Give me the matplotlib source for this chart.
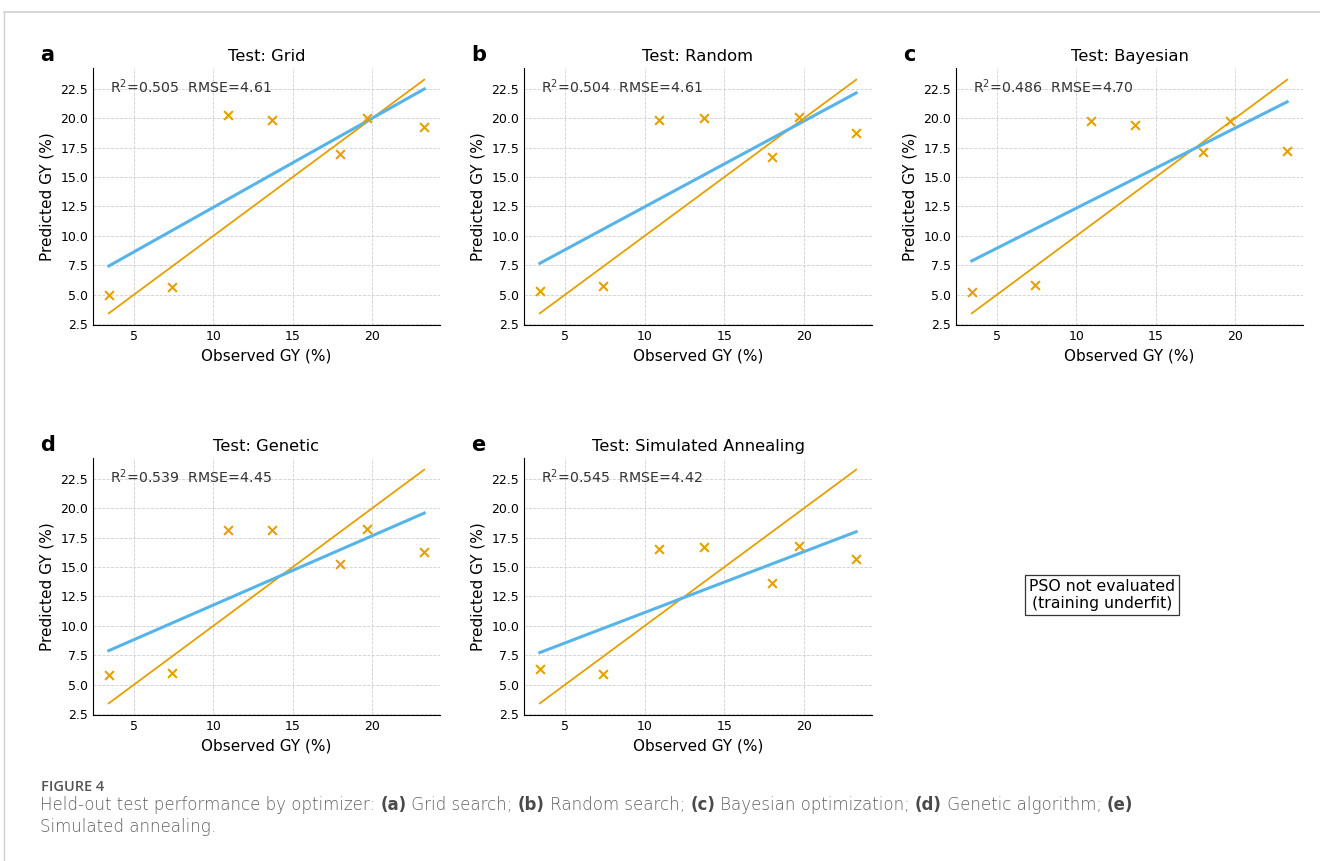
import numpy as np
import matplotlib
matplotlib.use("Agg")
import matplotlib.pyplot as plt
from matplotlib.lines import Line2D

# observed GY (%) on the held-out test set, same for every optimizer
observed = [3.4, 7.4, 10.9, 13.7, 18.0, 19.7, 23.3]

pred_grid = [4.95, 5.65, 20.25, 19.85, 17.0, 20.0, 19.3]
pred_random = [5.3, 5.75, 19.85, 20.0, 16.75, 20.15, 18.75]
pred_bayes = [5.25, 5.85, 19.75, 19.45, 17.15, 19.8, 17.25]
pred_genetic = [5.8, 5.95, 18.15, 18.2, 15.3, 18.25, 16.3]
pred_anneal = [6.3, 5.9, 16.55, 16.7, 13.65, 16.8, 15.7]

panel_letters = ["a", "b", "c", "d", "e"]
panel_titles = ["Test: Grid", "Test: Random", "Test: Bayesian",
                "Test: Genetic", "Test: Simulated Annealing"]
r2_values = ["0.505", "0.504", "0.486", "0.539", "0.545"]
rmse_values = ["4.61", "4.61", "4.70", "4.45", "4.42"]

ORANGE = "#E69F00"
BLUE = "#56B4E9"

W, H = 1320, 861
fig = plt.figure(figsize=(W / 100, H / 100), dpi=100)

# axes boxes in pixels: left, top, right, bottom
col_x = [(93, 440), (524, 872), (956, 1303)]
row_y = [(68, 325), (458, 715)]


def px_axes(l, t, r, b):
    return fig.add_axes([l / W, 1 - b / H, (r - l) / W, (b - t) / H])


def draw_panel(ax, obs, pred, letter, title, r2, rmse):
    obs = np.array(obs)
    pred = np.array(pred)
    lo, hi = obs.min(), obs.max()
    # least squares fit of predicted vs observed
    slope, icpt = np.polyfit(obs, pred, 1)
    xs = np.array([lo, hi])
    ax.scatter(obs, pred, marker="x", s=40, color=ORANGE, linewidths=1.5, zorder=3)
    ax.plot(xs, xs, color=ORANGE, lw=1.3, zorder=2)
    ax.plot(xs, slope * xs + icpt, color=BLUE, lw=2.2, zorder=2)

    ax.grid(True, ls="--", lw=0.6, color="#cfcfcf")
    ax.set_axisbelow(True)
    for s in ["top", "right"]:
        ax.spines[s].set_visible(False)
    ax.tick_params(labelsize=9, length=0, pad=3.5)
    ax.set_xticks([5, 10, 15, 20])
    ax.set_yticks(np.arange(2.5, 23, 2.5))
    ax.set_xlabel("Observed GY (%)", fontsize=11, labelpad=4)
    ax.set_ylabel("Predicted GY (%)", fontsize=11, labelpad=4)
    ax.set_title(title, fontsize=11.8, pad=4.8)
    ax.text(0.05, 0.965, "R$^2$=" + r2 + "  RMSE=" + rmse, transform=ax.transAxes,
            fontsize=10.2, va="top", ha="left", color="#333333")
    ax.text(-0.151, 1.0257, letter, transform=ax.transAxes, fontsize=15,
            fontweight="bold", va="baseline", ha="left")


preds = [pred_grid, pred_random, pred_bayes, pred_genetic, pred_anneal]
slots = [(0, 0), (0, 1), (0, 2), (1, 0), (1, 1)]
for i, (r, c) in enumerate(slots):
    l, rr = col_x[c]
    t, b = row_y[r]
    ax = px_axes(l, t, rr, b)
    draw_panel(ax, observed, preds[i], panel_letters[i], panel_titles[i],
               r2_values[i], rmse_values[i])

# empty sixth slot
fig.text(1102 / W, 1 - 595 / H, "PSO not evaluated\n(training underfit)",
         ha="center", va="center", fontsize=11.3, linespacing=1.1,
         bbox=dict(boxstyle="square,pad=0.25", fc="white", ec="#333333", lw=0.9))

# page border lines
fig.add_artist(Line2D([3.5 / W, 1], [1 - 11.5 / H, 1 - 11.5 / H],
                      transform=fig.transFigure, color="#d0d0d0", lw=1.2))
fig.add_artist(Line2D([3.5 / W, 3.5 / W], [0, 1 - 11.5 / H],
                      transform=fig.transFigure, color="#d0d0d0", lw=1.0))

# caption
fig.text(41 / W, 1 - 791 / H, "FIGURE 4", fontsize=10.5, family="Open Sans",
         color="#555555", va="baseline", ha="left", fontweight="semibold")

renderer = fig.canvas.get_renderer()


def rich_line(x_px, y_px, pieces):
    x = x_px
    for txt, bold in pieces:
        t = fig.text(x / W, 1 - y_px / H, txt, fontsize=12, family="DejaVu Sans",
                     color="#4a4a4a" if bold else "#5e5e5e", va="baseline", ha="left",
                     fontweight="bold" if bold else "light")
        x += t.get_window_extent(renderer=renderer).width


rich_line(40, 810, [
    ("Held-out test performance by optimizer: ", False), ("(a)", True),
    (" Grid search; ", False), ("(b)", True), (" Random search; ", False),
    ("(c)", True), (" Bayesian optimization; ", False), ("(d)", True),
    (" Genetic algorithm; ", False), ("(e)", True),
])
rich_line(40, 831.5, [("Simulated annealing.", False)])

fig.savefig("out.png", dpi=100)
